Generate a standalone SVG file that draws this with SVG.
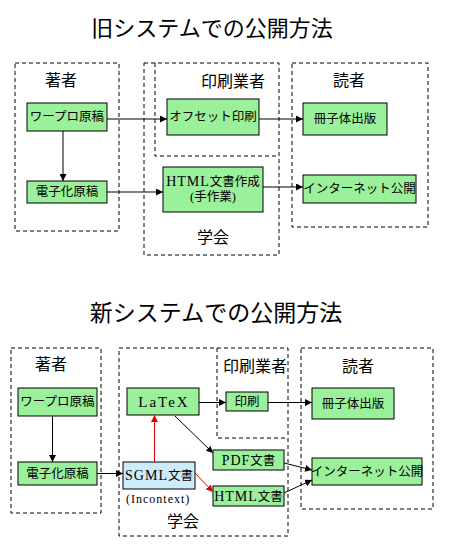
<svg xmlns="http://www.w3.org/2000/svg" width="450" height="545" viewBox="0 0 450 545">
<style>
.title{font-family:"Noto Sans CJK JP","Liberation Sans",sans-serif;font-size:22px;fill:#000}
.grp{fill:none;stroke:#000;stroke-width:1;stroke-dasharray:4,3}
.glabel{font-family:"Noto Sans CJK JP",sans-serif;font-size:16px;fill:#000;text-anchor:middle}
.node{fill:#9BF09B;stroke:#000;stroke-width:1}
.sgml{fill:#CDEBFA;stroke:#000;stroke-width:1}
.nt{font-family:"Liberation Serif","Noto Sans CJK JP",serif;font-size:12.5px;fill:#000;text-anchor:middle}
.lat{font-size:14px;letter-spacing:1px}
.latex{font-family:"Liberation Serif",serif;font-size:15px;letter-spacing:2px;fill:#000;text-anchor:middle}
.ink{font-family:"Liberation Serif",serif;font-size:12px;letter-spacing:1px;fill:#000}
.c{stroke:#000;stroke-width:1;fill:none}
.r{stroke:#E00000;stroke-width:1;fill:none}
</style>
<defs>
<marker id="ah" viewBox="0 0 8 8" refX="8" refY="4" markerWidth="7" markerHeight="7" markerUnits="userSpaceOnUse" orient="auto">
<path d="M0,0 L8,4 L0,8 z" fill="#000"/>
</marker>
<marker id="ahr" viewBox="0 0 8 8" refX="8" refY="4" markerWidth="7" markerHeight="7" markerUnits="userSpaceOnUse" orient="auto">
<path d="M0,0 L8,4 L0,8 z" fill="#E00000"/>
</marker>
</defs>

<text class="title" x="212" y="36" text-anchor="middle">旧システムでの公開方法</text>
<text class="title" x="216" y="321" text-anchor="middle" style="font-size:23px">新システムでの公開方法</text>

<!-- old system groups -->
<g id="old-author-group">
<rect class="grp" x="15" y="63" width="104" height="168"/>
<text class="glabel" x="61" y="86">著者</text>
</g>
<g id="old-society-group">
<rect class="grp" x="144" y="63" width="135" height="192"/>
<text class="glabel" x="213" y="243">学会</text>
</g>
<g id="old-printer-group">
<polyline class="grp" points="155,63 155,156 279,156"/>
<text class="glabel" x="233" y="87">印刷業者</text>
</g>
<g id="old-reader-group">
<rect class="grp" x="292" y="63" width="136" height="164"/>
<text class="glabel" x="349" y="86">読者</text>
</g>

<!-- old nodes -->
<g id="old-wapuro">
<rect class="node" x="27" y="103" width="80" height="28"/>
<text class="nt" x="67" y="121">ワープロ原稿</text>
</g>
<g id="old-denshika">
<rect class="node" x="27" y="181" width="80" height="22"/>
<text class="nt" x="67" y="196">電子化原稿</text>
</g>
<g id="old-offset">
<rect class="node" x="167" y="99" width="92" height="36"/>
<text class="nt" x="213" y="121">オフセット印刷</text>
</g>
<g id="old-html">
<rect class="node" x="163" y="167" width="100" height="45"/>
<text class="nt" x="213" y="186"><tspan class="lat">HTML</tspan>文書作成</text>
<text class="nt" x="213" y="201">(手作業)</text>
</g>
<g id="old-booklet">
<rect class="node" x="303" y="103" width="84" height="32"/>
<text class="nt" x="345" y="123">冊子体出版</text>
</g>
<g id="old-internet">
<rect class="node" x="303" y="175" width="113" height="28"/>
<text class="nt" x="359.5" y="193">インターネット公開</text>
</g>

<!-- new system groups -->
<g id="new-author-group">
<rect class="grp" x="11" y="348" width="90" height="165"/>
<text class="glabel" x="51" y="370">著者</text>
</g>
<g id="new-society-group">
<rect class="grp" x="119" y="348" width="169" height="188"/>
<text class="glabel" x="183" y="527">学会</text>
</g>
<g id="new-printer-group">
<polyline class="grp" points="217,348 217,438 288,438"/>
<text class="glabel" x="255" y="372">印刷業者</text>
</g>
<g id="new-reader-group">
<rect class="grp" x="301" y="348" width="132" height="161"/>
<text class="glabel" x="358" y="372">読者</text>
</g>

<!-- new nodes -->
<g id="new-wapuro">
<rect class="node" x="18" y="388" width="79" height="28"/>
<text class="nt" x="57.5" y="406">ワープロ原稿</text>
</g>
<g id="new-denshika">
<rect class="node" x="18" y="462" width="79" height="23"/>
<text class="nt" x="57.5" y="478">電子化原稿</text>
</g>
<g id="new-latex">
<rect class="node" x="127" y="388" width="72" height="27"/>
<text class="latex" x="164" y="407">LaTeX</text>
</g>
<g id="new-print">
<rect class="node" x="226" y="392" width="42" height="19"/>
<text class="nt" x="247" y="406">印刷</text>
</g>
<g id="new-booklet">
<rect class="node" x="312" y="388" width="82" height="31"/>
<text class="nt" x="353" y="408">冊子体出版</text>
</g>
<g id="new-pdf">
<rect class="node" x="213" y="450" width="71" height="20"/>
<text class="nt" x="248.5" y="465"><tspan class="lat">PDF</tspan>文書</text>
</g>
<g id="new-html">
<rect class="node" x="213" y="486" width="71" height="20"/>
<text class="nt" x="248.5" y="501"><tspan class="lat">HTML</tspan>文書</text>
</g>
<g id="new-sgml">
<rect class="sgml" x="123" y="462" width="72" height="27"/>
<text class="nt" x="159" y="480"><tspan class="lat">SGML</tspan>文書</text>
<text class="ink" x="126" y="503">(Incontext)</text>
</g>
<g id="new-internet">
<rect class="node" x="312" y="458" width="110" height="27"/>
<text class="nt" x="367" y="476">インターネット公開</text>
</g>

<!-- connectors -->
<g id="connectors">
<line class="c" x1="107" y1="119" x2="167" y2="119" marker-end="url(#ah)"/>
<line class="c" x1="63" y1="131" x2="63" y2="181" marker-end="url(#ah)"/>
<line class="c" x1="107" y1="192" x2="163" y2="192" marker-end="url(#ah)"/>
<line class="c" x1="259" y1="119" x2="303" y2="119" marker-end="url(#ah)"/>
<line class="c" x1="263" y1="187" x2="303" y2="187" marker-end="url(#ah)"/>

<line class="c" x1="52.5" y1="416" x2="52.5" y2="462" marker-end="url(#ah)"/>
<line class="c" x1="97" y1="473.5" x2="123" y2="473.5" marker-end="url(#ah)"/>
<line class="r" x1="154.5" y1="462" x2="154.5" y2="415" marker-end="url(#ahr)"/>
<line class="c" x1="199" y1="402.5" x2="226" y2="402.5" marker-end="url(#ah)"/>
<line class="c" x1="268" y1="402.5" x2="312" y2="402.5" marker-end="url(#ah)"/>
<line class="c" x1="175" y1="416" x2="213" y2="453" stroke-width="0.8" marker-end="url(#ah)"/>
<line class="r" x1="195" y1="473" x2="213" y2="492" marker-end="url(#ahr)"/>
<line class="c" x1="284" y1="463" x2="312" y2="470" stroke-width="0.8" marker-end="url(#ah)"/>
<line class="c" x1="284" y1="493" x2="312" y2="480" stroke-width="0.8" marker-end="url(#ah)"/>
</g>
</svg>
